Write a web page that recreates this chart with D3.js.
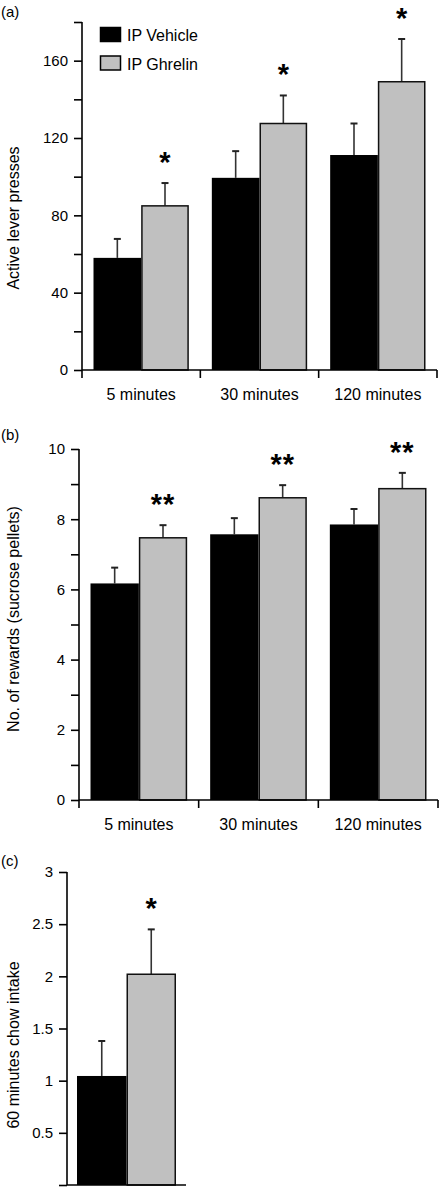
<!DOCTYPE html>
<html>
<head>
<meta charset="utf-8">
<script src="https://cdn.jsdelivr.net/npm/d3@7/dist/d3.min.js"></script>
<style>
  body { margin: 0; background: #fff; }
  svg { display: block; font-family: "Liberation Sans", Arial, Helvetica, sans-serif; }
</style>
</head>
<body>
<svg id="chart" width="443" height="1189"></svg>
<script>
// ---------- DATA ----------
const series = ["IP Vehicle", "IP Ghrelin"];
const timeCategories = ["5 minutes", "30 minutes", "120 minutes"];

// Panel (a) Active lever presses
const leverMean = { "IP Vehicle": [58, 99.4, 111.2], "IP Ghrelin": [84.9, 127.5, 149.1] };
const leverErr  = { "IP Vehicle": [9.8, 13.8, 16.3], "IP Ghrelin": [11.8, 14.5, 22.1] };
const leverStars = ["*", "*", "*"];
const leverTicks = [0, 20, 40, 60, 80, 100, 120, 140, 160, 180];
const leverTickLabels = [0, 40, 80, 120, 160];

// Panel (b) No. of rewards
const rewardMean = { "IP Vehicle": [6.17, 7.57, 7.85], "IP Ghrelin": [7.47, 8.61, 8.87] };
const rewardErr  = { "IP Vehicle": [0.45, 0.46, 0.44], "IP Ghrelin": [0.36, 0.36, 0.45] };
const rewardStars = ["**", "**", "**"];
const rewardTicks = [0, 1, 2, 3, 4, 5, 6, 7, 8, 9, 10];
const rewardTickLabels = [0, 2, 4, 6, 8, 10];

// Panel (c) 60 minutes chow intake
const chowCategories = ["60 minutes"];
const chowMean = { "IP Vehicle": [1.045], "IP Ghrelin": [2.02] };
const chowErr  = { "IP Vehicle": [0.335], "IP Ghrelin": [0.43] };
const chowStars = ["*"];
const chowTicks = [0, 0.5, 1, 1.5, 2, 2.5, 3];
const chowTickLabels = [0.5, 1, 1.5, 2, 2.5, 3];

const colors = { "IP Vehicle": "#000000", "IP Ghrelin": "#c0c0c0" };

// ---------- DRAW ----------
const svg = d3.select("#chart");

function panel(opts) {
  const g = svg.append("g");
  const x0 = d3.scaleBand().domain(opts.categories).range([opts.left, opts.right]);
  const x1 = d3.scaleBand().domain(series).range([opts.pad, x0.bandwidth() - opts.pad]);
  const y = d3.scaleLinear().domain(opts.domain).range([opts.bottom, opts.top]);

  opts.categories.forEach((cat, i) => {
    series.forEach(s => {
      const v = opts.mean[s][i];
      const e = opts.err[s][i];
      const bx = x0(cat) + x1(s);
      const bw = x1.bandwidth();
      const cx = bx + bw / 2;
      // error bar (upward only)
      g.append("line")
        .attr("x1", cx).attr("x2", cx)
        .attr("y1", y(v)).attr("y2", y(v + e))
        .attr("stroke", "#333").attr("stroke-width", 1.6);
      g.append("line")
        .attr("x1", cx - 3.5).attr("x2", cx + 3.5)
        .attr("y1", y(v + e)).attr("y2", y(v + e))
        .attr("stroke", "#222").attr("stroke-width", 2);
      g.append("rect")
        .attr("x", bx + (s === "IP Ghrelin" ? 0.75 : 0))
        .attr("y", y(v))
        .attr("width", bw - (s === "IP Ghrelin" ? 1.5 : 0))
        .attr("height", y(0) - y(v))
        .attr("fill", colors[s])
        .attr("stroke", s === "IP Ghrelin" ? "#111" : "none")
        .attr("stroke-width", 1.5);
      if (s === "IP Ghrelin") {
        g.append("text")
          .attr("x", cx)
          .attr("y", y(v + e) - 28 + 17)
          .attr("text-anchor", "middle")
          .attr("font-size", 29)
          .attr("font-weight", "bold")
          .attr("letter-spacing", opts.stars[i].length > 1 ? 1 : 0)
          .attr("fill", "#000")
          .text(opts.stars[i]);
      }
    });
  });

  // y axis
  const yAxis = d3.axisLeft(y)
    .tickValues(opts.ticks)
    .tickSize(8)
    .tickPadding(6)
    .tickFormat(d => opts.tickLabels.includes(d) ? d3.format("~g")(d) : "");
  const ya = g.append("g").attr("transform", `translate(${opts.left},0)`).call(yAxis);
  ya.select(".domain").attr("d", `M0,${opts.top}V${opts.bottom}`).attr("stroke-width", 1.6);
  ya.selectAll(".tick line").attr("stroke-width", 1.6);
  ya.selectAll(".tick text").attr("font-size", 15).attr("fill", "#000");

  // x axis
  g.append("line")
    .attr("x1", opts.left).attr("x2", opts.right)
    .attr("y1", opts.bottom).attr("y2", opts.bottom)
    .attr("stroke", "#000").attr("stroke-width", 1.6);
  if (opts.xTicks) {
    const bounds = opts.categories.map(c => x0(c)).concat([opts.right]);
    bounds.forEach(bx => {
      g.append("line")
        .attr("x1", bx).attr("x2", bx)
        .attr("y1", opts.bottom).attr("y2", opts.bottom + 8)
        .attr("stroke", "#000").attr("stroke-width", 1.6);
    });
    opts.categories.forEach(c => {
      g.append("text")
        .attr("x", x0(c) + x0.bandwidth() / 2)
        .attr("y", opts.bottom + 30)
        .attr("text-anchor", "middle")
        .attr("font-size", 16)
        .text(c);
    });
  }

  // y title
  g.append("text")
    .attr("transform", `translate(19,${opts.titleY}) rotate(-90)`)
    .attr("text-anchor", "middle")
    .attr("font-size", 16)
    .text(opts.title);

  // panel label
  g.append("text")
    .attr("x", 1).attr("y", opts.labelY)
    .attr("font-size", 15)
    .text(opts.label);
  return g;
}

panel({
  categories: timeCategories, left: 82, right: 437, pad: 11.5,
  top: 22, bottom: 370, domain: [0, 180],
  mean: leverMean, err: leverErr, stars: leverStars,
  ticks: leverTicks, tickLabels: leverTickLabels, xTicks: true,
  title: "Active lever presses", titleY: 218, label: "(a)", labelY: 17
});

panel({
  categories: timeCategories, left: 79, right: 438, pad: 11.5,
  top: 449, bottom: 800, domain: [0, 10],
  mean: rewardMean, err: rewardErr, stars: rewardStars,
  ticks: rewardTicks, tickLabels: rewardTickLabels, xTicks: true,
  title: "No. of rewards (sucrose pellets)", titleY: 619, label: "(b)", labelY: 440
});

panel({
  categories: chowCategories, left: 67, right: 186, pad: 10,
  top: 872, bottom: 1185, domain: [0, 3],
  mean: chowMean, err: chowErr, stars: chowStars,
  ticks: chowTicks, tickLabels: chowTickLabels, xTicks: false,
  title: "60 minutes chow intake", titleY: 1045, label: "(c)", labelY: 866
});

// legend (panel a)
const legend = svg.append("g");
series.forEach((s, i) => {
  legend.append("rect")
    .attr("x", 100.5).attr("y", 27.5 + i * 28.5)
    .attr("width", 20).attr("height", 14)
    .attr("fill", colors[s])
    .attr("stroke", "#000").attr("stroke-width", 1.5);
  legend.append("text")
    .attr("x", 127).attr("y", 41 + i * 28.5)
    .attr("font-size", 16)
    .text(s);
});
</script>
</body>
</html>
